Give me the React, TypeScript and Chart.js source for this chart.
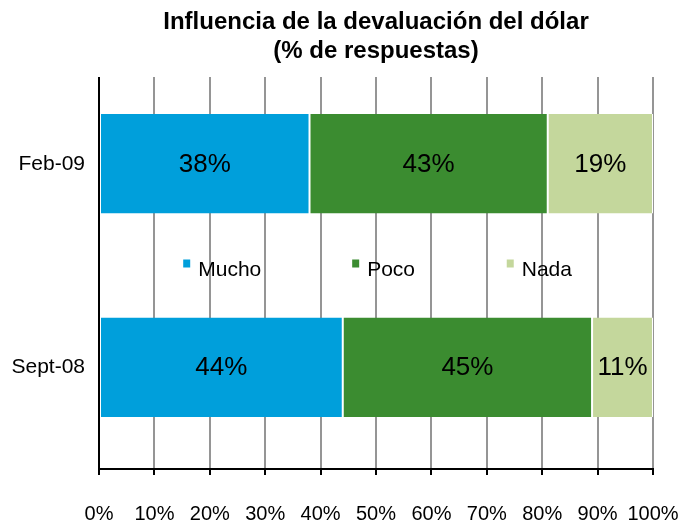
import React, { useEffect, useRef } from "react";
import { Chart, registerables } from "chart.js";

Chart.register(...registerables);

const categories = ["Feb-09", "Sept-08"];
const seriesNames = ["Mucho", "Poco", "Nada"];
const mucho = [38, 44];
const poco = [43, 45];
const nada = [19, 11];
const seriesColors = ["#009FDB", "#3B8C30", "#C4D79C"];
const xTicks = [0, 10, 20, 30, 40, 50, 60, 70, 80, 90, 100];
const titleLines = ["Influencia de la devaluación del dólar", "(% de respuestas)"];

const FONT = "'Liberation Sans', Arial, sans-serif";

export default function App() {
  const ref = useRef<HTMLCanvasElement | null>(null);
  useEffect(() => {
    const canvas = ref.current!;
    const coverPlugin = {
      id: "cover",
      beforeDatasetsDraw(chart: any) {
        const { ctx, chartArea } = chart;
        ctx.save();
        ctx.fillStyle = "#ffffff";
        ctx.fillRect(chartArea.left - 3, 0, chartArea.right - chartArea.left + 6, chartArea.top + 15);
        ctx.restore();
      },
    };
    const overlayPlugin = {
      id: "overlay",
      afterDatasetsDraw(chart: any) {
        const { ctx, chartArea } = chart;
        ctx.save();
        // value labels
        ctx.font = `26px ${FONT}`;
        ctx.fillStyle = "#000";
        ctx.textAlign = "center";
        ctx.textBaseline = "middle";
        chart.data.datasets.forEach((ds: any, di: number) => {
          const meta = chart.getDatasetMeta(di);
          meta.data.forEach((el: any, i: number) => {
            const cx = (el.x + el.base) / 2;
            ctx.fillText(ds.data[i] + "%", cx, el.y + 1);
          });
        });
        // title
        const cxTitle = (chartArea.left + chartArea.right) / 2;
        ctx.font = `bold 24px ${FONT}`;
        ctx.fillText(titleLines[0], cxTitle, 22);
        ctx.fillText(titleLines[1], cxTitle, 51);
        // legend
        const ys = chart.scales.y;
        const midY = (ys.getPixelForValue(0) + ys.getPixelForValue(1)) / 2;
        const fracs = [0.152, 0.457, 0.736];
        const w = chartArea.right - chartArea.left;
        ctx.font = `21px ${FONT}`;
        ctx.textAlign = "left";
        seriesNames.forEach((name, i) => {
          const x = chartArea.left + fracs[i] * w;
          ctx.fillStyle = seriesColors[i];
          ctx.fillRect(x, midY - 6, 7, 8);
          ctx.fillStyle = "#000";
          ctx.fillText(name, x + 15, midY + 5);
        });
        ctx.restore();
      },
    };
    const chart = new Chart(canvas, {
      type: "bar",
      data: {
        labels: categories,
        datasets: [
          { label: seriesNames[0], data: mucho, backgroundColor: seriesColors[0] },
          { label: seriesNames[1], data: poco, backgroundColor: seriesColors[1] },
          { label: seriesNames[2], data: nada, backgroundColor: seriesColors[2] },
        ].map((d) => ({
          ...d,
          borderColor: "#ffffff",
          borderWidth: { left: 1, right: 1, top: 0, bottom: 0 },
          borderSkipped: false,
          barPercentage: 0.49,
          categoryPercentage: 1,
        })),
      },
      options: {
        indexAxis: "y",
        animation: false,
        responsive: true,
        maintainAspectRatio: false,
        layout: { padding: { left: 0, right: 38, top: 62, bottom: 0 } },
        plugins: {
          legend: { display: false },
          title: { display: false },
          tooltip: { enabled: false },
        },
        scales: {
          x: {
            type: "linear",
            stacked: true,
            min: 0,
            max: 100,
            afterBuildTicks(scale: any) {
              scale.ticks = xTicks.map((v) => ({ value: v }));
            },
            afterFit(scale: any) {
              scale.height = 52;
              scale.paddingLeft = 0;
              scale.paddingRight = 0;
            },
            ticks: {
              callback: (v: any) => v + "%",
              color: "#000",
              font: { family: FONT, size: 20 },
              padding: 27,
              maxRotation: 0,
              autoSkip: false,
            },
            grid: {
              color: "#959595",
              lineWidth: 2,
              drawTicks: true,
              tickLength: 6,
              tickColor: "#000",
              tickWidth: 2,
            },
            border: { display: true, color: "#000", width: 2 },
          },
          y: {
            type: "category",
            stacked: true,
            afterFit(scale: any) {
              scale.width = 99;
            },
            ticks: {
              color: "#000",
              font: { family: FONT, size: 21 },
              padding: 14,
            },
            grid: { display: false, drawTicks: false },
            border: { display: true, color: "#000", width: 2 },
          },
        },
      },
      plugins: [coverPlugin, overlayPlugin],
    } as any);
    return () => chart.destroy();
  }, []);
  return (
    <div style={{ position: "fixed", left: 0, top: 0, width: 691, height: 521, background: "#fff" }}>
      <canvas ref={ref} />
    </div>
  );
}
